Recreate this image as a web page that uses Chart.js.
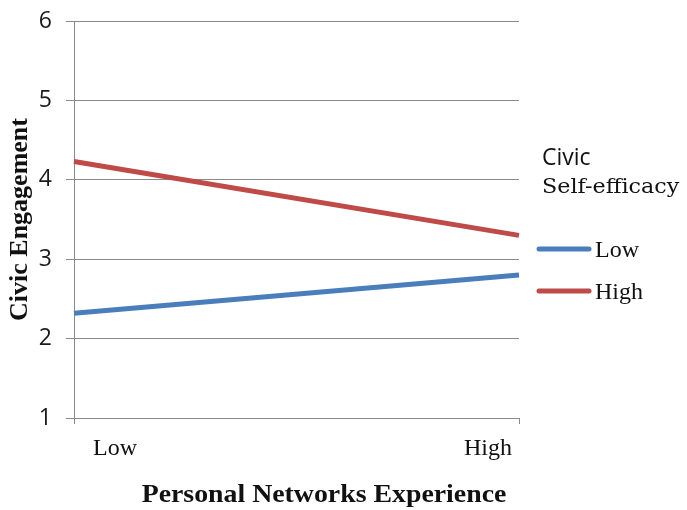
<!DOCTYPE html>
<html>
<head>
<meta charset="utf-8">
<script src="https://cdn.jsdelivr.net/npm/chart.js@4"></script>
<style>
  html, body { margin: 0; padding: 0; background: #ffffff; }
  #wrap { width: 687px; height: 510px; position: relative; }
</style>
</head>
<body>
<div id="wrap"><canvas id="chart" width="687" height="510"></canvas></div>
<script>
// Personal networks experience (x) by civic self-efficacy group
const categories = ['Low', 'High'];
const seriesNames = ['Low', 'High'];
const lowEfficacy = [2.32, 2.80];
const highEfficacy = [4.23, 3.30];
const yMin = 1, yMax = 6, yStep = 1;

const xTitle = 'Personal Networks Experience';
const yTitle = 'Civic Engagement';
const legendTitle = ['Civic', 'Self-efficacy'];

const BLUE = '#4A7EBB';
const RED = '#BE4B48';
const GRID = '#8a8a8a';

// Draws the category labels, the x-axis title and the legend block
const extraText = {
  id: 'extraText',
  afterDraw(chart) {
    const ctx = chart.ctx;
    const xs = chart.scales.x;
    const labels = chart.data.labels;
    ctx.save();
    ctx.fillStyle = '#111';
    ctx.textBaseline = 'alphabetic';

    // category labels, nudged inward from the end ticks
    ctx.font = '24px "Liberation Serif", "Times New Roman", serif';
    ctx.textAlign = 'left';
    ctx.fillText(labels[0], xs.getPixelForValue(0) + 19, 455);
    ctx.textAlign = 'right';
    ctx.fillText(labels[1], xs.getPixelForValue(1) - 7, 455);

    // axis title
    ctx.font = 'bold 26px "Liberation Serif", "Times New Roman", serif';
    ctx.textAlign = 'center';
    ctx.save();
    ctx.translate(324, 502);
    ctx.scale(1.07, 1);
    ctx.fillText(xTitle, 0, 0);
    ctx.restore();

    // legend
    ctx.textAlign = 'left';
    ctx.font = '23px "Open Sans", sans-serif';
    ctx.fillText(legendTitle[0], 542, 165);
    ctx.font = '21px "DejaVu Serif", serif';
    ctx.save();
    ctx.translate(542, 193);
    ctx.scale(1.06, 1);
    ctx.fillText(legendTitle[1], 0, 0);
    ctx.restore();

    const rows = [249, 291];
    chart.data.datasets.forEach((ds, i) => {
      const y = rows[i];
      ctx.strokeStyle = ds.borderColor;
      ctx.lineWidth = 5;
      ctx.lineCap = 'round';
      ctx.beginPath();
      ctx.moveTo(539, y);
      ctx.lineTo(589, y);
      ctx.stroke();
      ctx.fillStyle = '#111';
      ctx.font = '24px "Liberation Serif", "Times New Roman", serif';
      ctx.fillText(ds.label, 595, y + 8);
    });
    ctx.restore();
  }
};

new Chart(document.getElementById('chart'), {
  type: 'line',
  data: {
    labels: categories,
    datasets: [
      { label: seriesNames[0], data: lowEfficacy, borderColor: BLUE, backgroundColor: BLUE,
        borderWidth: 5, pointRadius: 0, tension: 0, fill: false },
      { label: seriesNames[1], data: highEfficacy, borderColor: RED, backgroundColor: RED,
        borderWidth: 5, pointRadius: 0, tension: 0, fill: false }
    ]
  },
  options: {
    responsive: false,
    animation: false,
    devicePixelRatio: 1,
    layout: { padding: { top: 21, right: 168, bottom: 0, left: 0 } },
    plugins: { legend: { display: false }, tooltip: { enabled: false } },
    scales: {
      x: {
        type: 'category',
        offset: false,
        grid: { drawOnChartArea: false, drawTicks: true, tickLength: 6, color: GRID },
        border: { display: false },
        ticks: { display: false },
        afterFit(scale) { scale.height = 92; }
      },
      y: {
        min: yMin, max: yMax,
        grid: { color: GRID, lineWidth: 1, tickLength: 8 },
        border: { color: GRID, width: 1 },
        ticks: {
          stepSize: yStep, padding: 14, color: '#1a1a1a',
          font: { family: '"Open Sans", sans-serif', size: 23, lineHeight: 0.6 }
        },
        title: {
          display: true, text: yTitle, color: '#111',
          font: { family: '"Liberation Serif", "Times New Roman", serif', size: 26, weight: 'bold' },
          padding: { top: 5, bottom: 4 }
        },
        afterFit(scale) { scale.width = 74; }
      }
    }
  },
  plugins: [extraText]
});
</script>
</body>
</html>
